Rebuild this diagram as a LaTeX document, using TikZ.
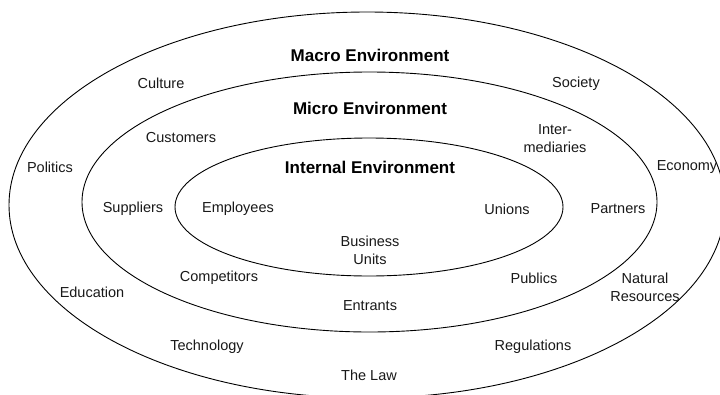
\documentclass[tikz,border=0pt]{standalone}
\usepackage{fontspec}
\setmainfont{Liberation Sans}
\begin{document}
\begin{tikzpicture}[x=1pt,y=-1pt,
  ring/.style={draw=black,line width=0.9pt},
  lab/.style={inner sep=0pt,align=center,font=\fontsize{14.5}{18}\selectfont,text=black!90},
  title/.style={inner sep=0pt,align=center,font=\fontsize{17}{20}\selectfont\bfseries,text=black}]
\useasboundingbox (0,0) rectangle (720,394);
\fill[white] (0,0) rectangle (720,394);
\begin{scope}
\clip (0,0) rectangle (720,394);
\draw[ring] (367,205) ellipse [x radius=358pt,y radius=193pt];
\draw[ring] (369.5,202) ellipse [x radius=287.5pt,y radius=130pt];
\draw[ring] (369,207) ellipse [x radius=194pt,y radius=69pt];
\end{scope}
% titles
\node[title] (macro) at (370,55) {Macro Environment};
\node[title] (micro) at (370,108) {Micro Environment};
\node[title] (internal) at (370,167) {Internal Environment};
% macro labels
\node[lab] (culture) at (161,83) {Culture};
\node[lab] (society) at (576,84) {Society};
\node[lab] (politics) at (50,167) {Politics};
\node[lab] (economy) at (687,167) {Economy};
\node[lab] (education) at (92,292) {Education};
\node[lab] (natural) at (645,287) {Natural\\Resources};
\node[lab] (technology) at (207,347) {Technology};
\node[lab] (regulations) at (533,347) {Regulations};
\node[lab] (law) at (369,375) {The Law};
% micro labels
\node[lab] (customers) at (181,138) {Customers};
\node[lab] (intermediaries) at (555,139) {Inter-\\mediaries};
\node[lab] (suppliers) at (133,209) {Suppliers};
\node[lab] (partners) at (618,209) {Partners};
\node[lab] (competitors) at (219,278) {Competitors};
\node[lab] (publics) at (534,278) {Publics};
\node[lab] (entrants) at (370,306) {Entrants};
% internal labels
\node[lab] (employees) at (238,209) {Employees};
\node[lab] (unions) at (507,209) {Unions};
\node[lab] (units) at (370,250) {Business\\Units};
\end{tikzpicture}
\end{document}
